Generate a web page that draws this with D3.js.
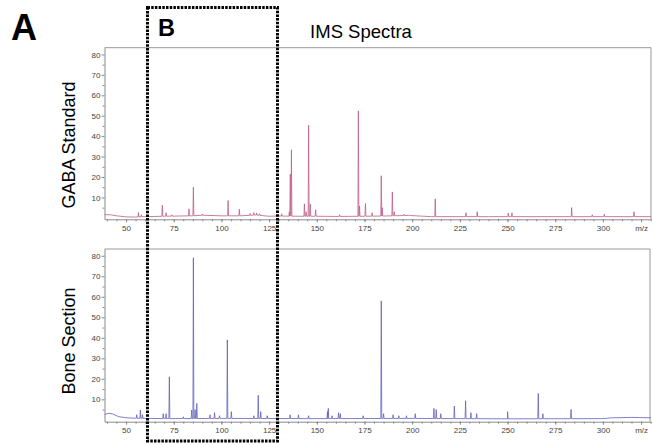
<!DOCTYPE html>
<html>
<head>
<meta charset="utf-8">
<script src="https://cdn.jsdelivr.net/npm/d3@7"></script>
<style>
  body { margin: 0; background: #fff; }
  svg { font-family: "Liberation Sans", Arial, sans-serif; }
  .tick text { fill: #444; font-size: 8px; }
  .domain, .tick line { stroke: #8a8a8a; }
</style>
</head>
<body>
<svg width="653" height="443"></svg>
<script>
const svg = d3.select('svg');

// tick values / labels
const xMajor = [50, 75, 100, 125, 150, 175, 200, 225, 250, 275, 300, 320];
const yMajor = [10, 20, 30, 40, 50, 60, 70, 80];

// [m/z, intensity]
const gabaBaseline = [[38.7, 1.6], [42, 1.5], [45, 1.0], [50, 0.5], [55, 0.4], [60, 0.6], [70, 0.8], [85, 1.0],
  [90, 1.3], [100, 1.0], [110, 1.0], [118, 1.4], [125, 0.8], [130, 0.9], [140, 0.8], [150, 0.8], [160, 0.7],
  [175, 0.8], [185, 0.9], [198, 1.2], [210, 0.6], [240, 0.6], [280, 0.6], [300, 0.6], [325.2, 0.6]];
const gabaPeaks = [[56.5, 2.6], [58, 1.5], [69, 6.2], [71, 2.5], [74, 1.5], [83, 4.4], [85.3, 15], [90, 1.8],
  [103.5, 8.5], [109.4, 4.2], [115, 2.2], [117, 2.6], [118.5, 2.4], [120, 2.0], [131.6, 2.0], [135.6, 3.0],
  [136.1, 21.4], [136.7, 33.3], [143.5, 6.9], [144.4, 3.0], [145.7, 45.4], [146.6, 6.8], [149.4, 4.0],
  [162, 1.5], [171.8, 52.4], [172.4, 5.8], [175.5, 7.0], [179, 2.5], [183.8, 20.6], [184.3, 5.0],
  [189.6, 12.7], [190.6, 3.0], [195.8, 1.8], [198.8, 1.5], [212.1, 9.3], [228.2, 2.5], [234.1, 3.0],
  [250.4, 2.4], [252.3, 2.5], [283.6, 5.0], [294.4, 1.5], [300.7, 1.8], [316.3, 3.0]];

const boneBaseline = [[38.7, 2.6], [41, 3.2], [43, 2.9], [46, 1.6], [50, 1.0], [55, 0.8], [70, 0.6], [100, 0.7],
  [150, 0.6], [200, 0.7], [250, 0.5], [300, 0.6], [305, 1.0], [315, 1.2], [325.2, 1.0]];
const bonePeaks = [[55.6, 2.5], [57.5, 4.8], [58.6, 2.5], [69.5, 3.0], [71, 3.0], [72.7, 21], [80, 1.5],
  [84.4, 4.8], [85.3, 79], [86.2, 5.0], [87.1, 8.0], [94, 2.5], [96.4, 3.5], [99, 2.0], [103.1, 39],
  [105.2, 4.0], [117, 2.0], [119.3, 12], [120.6, 4.0], [124, 2.0], [136, 2.5], [140.4, 2.5], [145.7, 2.0],
  [155.6, 4.0], [156, 5.6], [158, 2.0], [161.4, 3.5], [162.3, 3.0], [174.3, 2.0], [183.8, 58], [185, 3.0],
  [190, 2.5], [193, 2.0], [197, 2.0], [201.6, 3.0], [211.4, 5.6], [212.6, 5.0], [215, 3.0], [222.1, 6.7],
  [228, 9.3], [230.8, 3.5], [233.8, 3.0], [250, 4.0], [266.1, 12.9], [268.5, 3.0], [283.3, 5.1]];

const panels = [
  { label: 'GABA Standard', baseline: gabaBaseline, peaks: gabaPeaks, color: '#bd5c88',
    top: 47.7, bottom: 219.3, yDomain: [-0.7, 83.3], right: 651, labelY: 145 },
  { label: 'Bone Section', baseline: boneBaseline, peaks: bonePeaks, color: '#6161bd',
    top: 249, bottom: 421.7, yDomain: [-0.9, 83.3], right: 650, labelY: 341 }
];

const x = d3.scaleLinear().domain([38.7, 325.2]).range([104.5, 651]);

panels.forEach(p => {
  const y = d3.scaleLinear().domain(p.yDomain).range([p.bottom, p.top]);
  const g = svg.append('g');

  // frame (top + right)
  g.append('path')
    .attr('d', `M${x.range()[0]},${p.top}H${p.right}V${p.bottom}`)
    .attr('fill', 'none').attr('stroke', '#9a9a9a');

  // spectrum: baseline with narrow spikes
  const base = d3.scaleLinear().domain(p.baseline.map(d => d[0])).range(p.baseline.map(d => d[1]));
  const w = 0.25;
  const pts = p.baseline.slice();
  p.peaks.forEach(([m, h]) => {
    pts.push([m - w, base(m - w)], [m, h], [m + w, base(m + w)]);
  });
  pts.sort((a, b) => a[0] - b[0]);
  const line = d3.line().x(d => x(d[0])).y(d => y(d[1]));
  g.append('path').attr('d', line(pts))
    .attr('fill', 'none').attr('stroke', p.color).attr('stroke-width', 0.8);

  // axes
  g.append('g').attr('transform', `translate(0,${p.bottom})`)
    .call(d3.axisBottom(x).tickValues(d3.range(40, 326, 5)).tickSize(2).tickFormat(''))
    .call(a => a.select('.domain').remove());
  g.append('g').attr('transform', `translate(0,${p.bottom})`)
    .call(d3.axisBottom(x).tickValues(xMajor).tickSize(3).tickSizeOuter(0).tickPadding(3)
      .tickFormat(d => d === 320 ? 'm/z' : d));
  g.append('g').attr('transform', `translate(${x.range()[0]},0)`)
    .call(d3.axisLeft(y).tickValues(d3.range(5, 80, 10)).tickSize(2).tickFormat(''))
    .call(a => a.select('.domain').remove());
  g.append('g').attr('transform', `translate(${x.range()[0]},0)`)
    .call(d3.axisLeft(y).tickValues(yMajor).tickSize(3).tickSizeOuter(0).tickPadding(1));

  g.append('text')
    .attr('transform', `translate(75,${p.labelY}) rotate(-90)`)
    .attr('text-anchor', 'middle').attr('font-size', 18).attr('fill', '#000')
    .text(p.label);
});

svg.append('text').attr('x', 361).attr('y', 38).attr('text-anchor', 'middle')
  .attr('font-size', 18.5).text('IMS Spectra');
svg.append('text').attr('x', 11).attr('y', 40).attr('font-size', 36).attr('font-weight', 'bold').text('A');
svg.append('text').attr('x', 158).attr('y', 36).attr('font-size', 23.5).attr('font-weight', 'bold').text('B');

// dotted box B
svg.append('rect').attr('x', 147.5).attr('y', 7.5).attr('width', 130).attr('height', 433.5)
  .attr('fill', 'none').attr('stroke', '#000').attr('stroke-width', 3).attr('stroke-dasharray', '2.5,1.2');
</script>
</body>
</html>
